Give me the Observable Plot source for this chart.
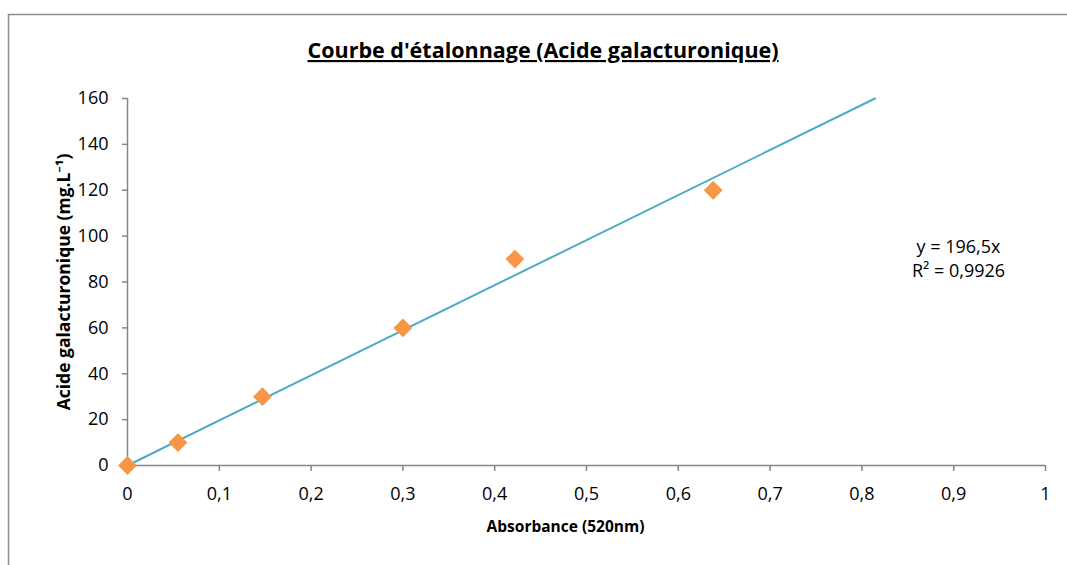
<!DOCTYPE html>
<html>
<head>
<meta charset="utf-8">
<script src="https://cdn.jsdelivr.net/npm/d3@7"></script>
<script src="https://cdn.jsdelivr.net/npm/@observablehq/plot@0.6"></script>
<style>
  html, body { margin: 0; padding: 0; background: #fff; overflow: hidden; }
  #chart svg { display: block; }
</style>
</head>
<body>
<div id="chart"></div>
<script>
// Data
const absorbance = [0, 0.055, 0.147, 0.3, 0.422, 0.638];
const concentration = [0, 10, 30, 60, 90, 120];
const slope = 196.5;
const r2 = "0,9926";
const xTicks = [0, 0.1, 0.2, 0.3, 0.4, 0.5, 0.6, 0.7, 0.8, 0.9, 1];
const yTicks = [0, 20, 40, 60, 80, 100, 120, 140, 160];
const yMax = 160;

const points = absorbance.map((a, i) => ({x: a, y: concentration[i]}));
const trend = [{x: 0, y: 0}, {x: yMax / slope, y: yMax}];
const fmt = d => String(d).replace(".", ",");

const font = "'Open Sans', 'Noto Sans', sans-serif";
const axisColor = "#868686";

const plot = Plot.plot({
  width: 1067,
  height: 565,
  marginLeft: 127,
  marginRight: 22,
  marginTop: 98,
  marginBottom: 100,
  style: {fontFamily: font, fontSize: "18px", color: "#000", background: "#fff", overflow: "hidden"},
  x: {domain: [0, 1], ticks: xTicks, tickFormat: fmt},
  y: {domain: [0, yMax], ticks: yTicks, tickFormat: fmt},
  marks: [
    Plot.axisX({ticks: xTicks, tickFormat: fmt, tickSize: 6, tickPadding: 16, stroke: axisColor, strokeWidth: 1.5, fill: "#000", fontSize: 18,
      label: "Absorbance (520nm)", labelAnchor: "center", labelArrow: "none", labelOffset: 66}),
    Plot.axisY({ticks: yTicks, tickFormat: fmt, tickSize: 5, tickPadding: 14, stroke: axisColor, strokeWidth: 1.5, fill: "#000", fontSize: 18,
      label: "Acide galacturonique (mg.L⁻¹)", labelAnchor: "center", labelArrow: "none", labelOffset: 70}),
    Plot.ruleX([0], {stroke: axisColor, strokeWidth: 1.5}),
    Plot.ruleY([0], {stroke: axisColor, strokeWidth: 1.5}),
    Plot.line(trend, {x: "x", y: "y", stroke: "#4BACC6", strokeWidth: 2}),
    Plot.dot(points, {x: "x", y: "y", symbol: "diamond2", r: 8.5, fill: "#F79646", stroke: "none"}),
    Plot.text([`y = ${fmt(slope)}x`, `R² = ${r2}`], {
      frameAnchor: "top-right", text: d => d,
      fontSize: 18, fill: "#000", textAnchor: "middle"
    })
  ]
});

const svg = d3.select(plot);
// style axis labels bold
svg.selectAll("g[aria-label='x-axis label'] text")
  .attr("font-weight", "bold").attr("font-size", 15.5)
  .attr("dx", -21);
svg.selectAll("g[aria-label='y-axis label'] text")
  .attr("font-weight", "bold").attr("font-size", 17.5);

// Equation lines positioned
const eq = svg.selectAll("g[aria-label='text'] text");
eq.each(function(d, i) {
  d3.select(this).attr("transform", `translate(${958},${247 + i * 24})`).attr("x", null).attr("y", null).attr("dy", "0.32em");
});

// Title
svg.append("text")
  .attr("x", 543).attr("y", 58)
  .attr("text-anchor", "middle")
  .attr("font-family", font)
  .attr("font-weight", "bold")
  .attr("font-size", 21.5)
  .attr("text-decoration", "underline")
  .attr("fill", "#000")
  .text("Courbe d'étalonnage (Acide galacturonique)");

// Chart area border (only left and top edges visible in the picture)
svg.insert("path", ":first-child")
  .attr("d", "M8.5,565V14.5H1067")
  .attr("fill", "none").attr("stroke", "#8c8c8c").attr("stroke-width", 1.5);

document.getElementById("chart").appendChild(plot);
</script>
</body>
</html>
